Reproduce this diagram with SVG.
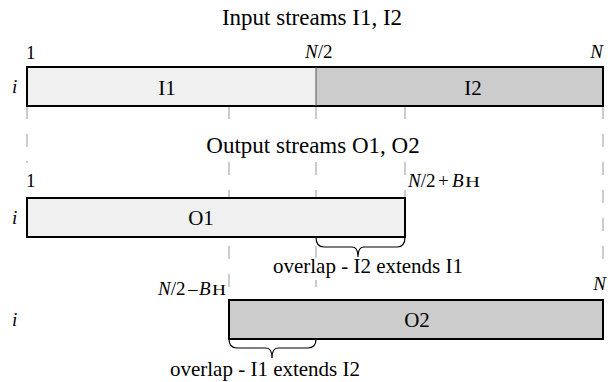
<svg xmlns="http://www.w3.org/2000/svg" width="611" height="382" viewBox="0 0 611 382">
<style>
text{font-family:"Liberation Serif","Times New Roman",serif;fill:#000}
.h{font-size:23px}
.t{font-size:21px}
.l{font-size:19px}
.it{font-style:italic}
.sc{font-size:14px}
.bar{stroke:#000;stroke-width:2}
.light{fill:#f0f0f0}
.dark{fill:#cccccc}
.dash{stroke:#999;stroke-width:1;fill:none}
.brace{stroke:#000;stroke-width:1.2;fill:none}
</style>
<rect width="611" height="382" fill="#fff"/>
<g id="connectors">
<path class="dash" d="M27 106V119M27 134V147M27 161V163"/>
<path class="dash" d="M229 106V119M229 162V175M229 190V198M229 246V259M229 274V287"/>
<path class="dash" d="M316 106V119M316 162V175M316 190V198M316 246V258M316 280V287"/>
<path class="dash" d="M405 106V119M405 162V175M405 190V198"/>
<path class="dash" d="M603 106V119M603 134V147M603 162V175M603 190V203M603 218V231M603 246V259"/>
<path id="brace1" class="brace" d="M316 237Q316 247 324 247L352 247Q358 247 358 257Q358 247 364 247L397 247Q405 247 405 237"/>
<path id="brace2" class="brace" d="M229 339Q229 348 237 348L266 348Q272 348 272 358Q272 348 278 348L308 348Q316 348 316 339"/>
</g>
<text class="h" x="312" y="25" text-anchor="middle">Input streams I1, I2</text>
<g id="input">
<rect class="bar light" x="27" y="67" width="576" height="39"/>
<rect x="316" y="67" width="287" height="39" class="dark"/>
<rect class="bar" x="27" y="67" width="576" height="39" fill="none"/>
<line x1="316" y1="67" x2="316" y2="106" stroke="#555" stroke-width="1"/>
<text class="t" x="167" y="95" text-anchor="middle">I1</text>
<text class="t" x="473" y="95" text-anchor="middle">I2</text>
<text class="l it" x="12" y="93">i</text>
<text class="l" x="26" y="59">1</text>
<text class="l" x="305" y="58"><tspan class="it">N</tspan>/2</text>
<text class="l it" x="603" y="58" text-anchor="end">N</text>
</g>
<text class="h" x="313" y="153" text-anchor="middle">Output streams O1, O2</text>
<g id="O1">
<rect class="bar light" x="27" y="198" width="378" height="39"/>
<text class="t" x="201" y="225" text-anchor="middle">O1</text>
<text class="l it" x="12" y="224">i</text>
<text class="l" x="26" y="187">1</text>
<text class="l" y="187"><tspan class="it" x="408">N</tspan>/2<tspan x="438">+</tspan><tspan class="it" x="452">B</tspan></text>
<text class="sc" x="465" y="187" textLength="15" lengthAdjust="spacingAndGlyphs">H</text>
</g>
<text id="overlap1" class="t" x="368" y="273" text-anchor="middle">overlap - I2 extends I1</text>
<g id="O2">
<rect class="bar dark" x="229" y="300" width="374" height="39"/>
<text class="t" x="417" y="327" text-anchor="middle">O2</text>
<text class="l it" x="12" y="326">i</text>
<text class="l" y="295"><tspan class="it" x="158">N</tspan>/2<tspan x="188">–</tspan><tspan class="it" x="199">B</tspan></text>
<text class="sc" x="212" y="295" textLength="14" lengthAdjust="spacingAndGlyphs">H</text>
<text class="l it" x="606" y="290" text-anchor="end">N</text>
</g>
<text id="overlap2" class="t" x="265" y="376" text-anchor="middle">overlap - I1 extends I2</text>
</svg>
